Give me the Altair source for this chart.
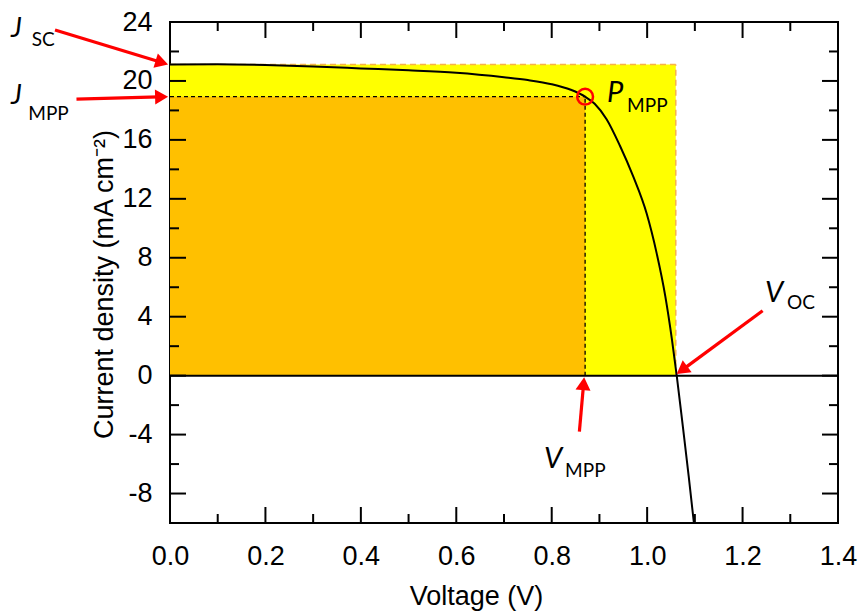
import math
import altair as alt
import pandas as pd

# ---- data ----
voltage = [0.0, 0.1, 0.2, 0.3, 0.4, 0.5, 0.6, 0.7, 0.75, 0.8, 0.84, 0.87, 0.89,
           0.915, 0.943, 0.971, 0.999, 1.02, 1.038, 1.052, 1.062, 1.075, 1.087, 1.098]
current = [21.12, 21.13, 21.08, 20.98, 20.85, 20.72, 20.55, 20.25, 20.06, 19.78, 19.4,
           18.93, 18.45, 17.4, 15.6, 13.5, 11.0, 8.3, 5.4, 2.45, 0.0, -3.5, -6.8, -10.0]

J_SC = 21.12
J_MPP = 18.93
V_MPP = 0.870
V_OC = 1.060

x_major = [0.0, 0.2, 0.4, 0.6, 0.8, 1.0, 1.2, 1.4]
x_minor = [0.1, 0.3, 0.5, 0.7, 0.9, 1.1, 1.3]
y_major = [-8, -4, 0, 4, 8, 12, 16, 20, 24]
y_minor = [-6, -2, 2, 6, 10, 14, 18, 22]

X_DOMAIN = [0, 1.4]
Y_DOMAIN = [-10, 24]

# annotation labels: main letter (italic) + subscript
ann_main = ["J", "J", "P", "V", "V"]
ann_sub = ["SC", "MPP", "MPP", "OC", "MPP"]
ann_main_v = [-0.333, -0.333, 0.916, 1.247, 0.784]
ann_main_j = [22.95, 18.45, 18.57, 5.0, -6.27]
ann_sub_v = [-0.290, -0.297, 0.958, 1.293, 0.828]
ann_sub_j = [22.4, 17.35, 17.89, 4.52, -6.88]
ann_main_size = [27, 27, 29, 29, 29]

# arrows: tail (V, J) -> tip (V, J)
arrow_tail_v = [-0.241, -0.196, 0.858, 1.242]
arrow_tail_j = [23.46, 18.77, -3.80, 4.41]
arrow_tip_v = [-0.004, -0.004, 0.868, 1.062]
arrow_tip_j = [J_SC, J_MPP, -0.11, 0.11]

# ---- layout ----
W, H = 668, 501
PX_V = W / (X_DOMAIN[1] - X_DOMAIN[0])
PX_J = H / (Y_DOMAIN[1] - Y_DOMAIN[0])

AX_FONT = "Liberation Sans"
ANN_FONT = "Lato"
MINUS_FIX = "replace(datum.label, '\u2212', '-')"

xs = alt.Scale(domain=X_DOMAIN, nice=False, zero=False)
ys = alt.Scale(domain=Y_DOMAIN, nice=False, zero=False)
x_axis = alt.Axis(values=x_major, format=".1f", title="Voltage (V)", labelFlush=False,
                  labelOverlap=False, labelPadding=20, titleX=306, titleY=60,
                  titleBaseline="top")
y_axis = alt.Axis(values=y_major, format="d", title="Current density (mA cm\u207b\u00b2)",
                  labelFlush=False, labelOverlap=False, labelExpr=MINUS_FIX,
                  labelPadding=18, titleX=-52, titleY=262, titleBaseline="bottom")


def X(field):
    return alt.X(f"{field}:Q", scale=xs, axis=x_axis)


def Y(field):
    return alt.Y(f"{field}:Q", scale=ys, axis=y_axis)


curve_df = pd.DataFrame({"V": voltage, "J": current})

yellow = alt.Chart(pd.DataFrame({"x0": [0.0], "x1": [V_OC], "y0": [0.0], "y1": [J_SC]})).mark_rect(
    color="#FFFF00").encode(x=X("x0"), x2="x1", y=Y("y0"), y2="y1")
orange = alt.Chart(pd.DataFrame({"x0": [0.0], "x1": [V_MPP], "y0": [0.0], "y1": [J_MPP]})).mark_rect(
    color="#FFC000").encode(x=X("x0"), x2="x1", y=Y("y0"), y2="y1")

seg_y = pd.DataFrame({"x0": [0.0, V_OC], "x1": [V_OC, V_OC], "y0": [J_SC, 0.0], "y1": [J_SC, J_SC]})
yellow_border = alt.Chart(seg_y).mark_rule(color="#F7B24A", strokeWidth=1.5, strokeDash=[6, 4]).encode(
    x=X("x0"), x2="x1", y=Y("y0"), y2="y1")

seg_o = pd.DataFrame({"x0": [0.0, V_MPP], "x1": [V_MPP, V_MPP], "y0": [J_MPP, 0.0], "y1": [J_MPP, J_MPP]})
mpp_dash = alt.Chart(seg_o).mark_rule(color="black", strokeWidth=1.3, strokeDash=[4, 3]).encode(
    x=X("x0"), x2="x1", y=Y("y0"), y2="y1")

zero_df = pd.DataFrame({"x0": [X_DOMAIN[0]], "x1": [X_DOMAIN[1]], "y0": [0.0]})
zero_line = alt.Chart(zero_df).mark_rule(color="black", strokeWidth=2).encode(
    x=X("x0"), x2="x1", y=Y("y0"))

curve = alt.Chart(curve_df).mark_line(color="black", strokeWidth=2, interpolate="monotone").encode(
    x=X("V"), y=Y("J"))

mpp_pt = alt.Chart(pd.DataFrame({"V": [V_MPP], "J": [J_MPP]})).mark_point(
    shape="circle", filled=False, color="#FF0000", strokeWidth=2.5, size=250, opacity=1).encode(
    x=X("V"), y=Y("J"))

# inward ticks on all four sides
MAJ, MIN = 16, 9
tick_layers = []
for vals, ln in ((x_major, MAJ), (x_minor, MIN)):
    d = pd.DataFrame({"V": vals})
    tick_layers.append(alt.Chart(d).mark_rule(color="black", strokeWidth=2).encode(
        x=X("V"), y=alt.value(H), y2=alt.value(H - ln)))
    tick_layers.append(alt.Chart(d).mark_rule(color="black", strokeWidth=2).encode(
        x=X("V"), y=alt.value(0), y2=alt.value(ln)))
for vals, ln in ((y_major, MAJ), (y_minor, MIN)):
    d = pd.DataFrame({"J": vals})
    tick_layers.append(alt.Chart(d).mark_rule(color="black", strokeWidth=2).encode(
        y=Y("J"), x=alt.value(0), x2=alt.value(ln)))
    tick_layers.append(alt.Chart(d).mark_rule(color="black", strokeWidth=2).encode(
        y=Y("J"), x=alt.value(W), x2=alt.value(W - ln)))

# arrows
HEAD = 13.0
rows_line, rows_head = [], []
for tv, tj, hv, hj in zip(arrow_tail_v, arrow_tail_j, arrow_tip_v, arrow_tip_j):
    dx = (hv - tv) * PX_V
    dy = -(hj - tj) * PX_J
    L = math.hypot(dx, dy)
    ux, uy = dx / L, dy / L
    ev = hv - ux * HEAD * 0.7 / PX_V
    ej = hj + uy * HEAD * 0.7 / PX_J
    cv = hv - ux * HEAD / 2 / PX_V
    cj = hj + uy * HEAD / 2 / PX_J
    ang = math.degrees(math.atan2(ux, -uy)) % 360
    rows_line.append({"x0": tv, "y0": tj, "x1": ev, "y1": ej})
    rows_head.append({"V": cv, "J": cj, "ang": ang})

r = HEAD / math.sqrt(3)
head_size = (2 * r) ** 2
arrow_lines = alt.Chart(pd.DataFrame(rows_line)).mark_rule(color="#FF0000", strokeWidth=3.2).encode(
    x=X("x0"), x2="x1", y=Y("y0"), y2="y1")
arrow_heads = alt.Chart(pd.DataFrame(rows_head)).mark_point(
    shape="triangle-up", filled=True, color="#FF0000", size=head_size, opacity=1, strokeWidth=0).encode(
    x=X("V"), y=Y("J"), angle=alt.Angle("ang:Q", scale=None))

main_df = pd.DataFrame({"V": ann_main_v, "J": ann_main_j, "t": ann_main, "fs": ann_main_size})
sub_df = pd.DataFrame({"V": ann_sub_v, "J": ann_sub_j, "t": ann_sub})
main_text = alt.Chart(main_df).mark_text(
    font=ANN_FONT, fontStyle="italic", align="left", baseline="alphabetic", color="black").encode(
    x=X("V"), y=Y("J"), text="t:N", size=alt.Size("fs:Q", scale=None))
sub_text = alt.Chart(sub_df).mark_text(
    font=ANN_FONT, fontSize=19, align="left", baseline="alphabetic", color="black").encode(
    x=X("V"), y=Y("J"), text="t:N")

chart = alt.layer(
    yellow, orange, yellow_border, mpp_dash, zero_line, curve, mpp_pt,
    *tick_layers, arrow_lines, arrow_heads, main_text, sub_text,
).properties(
    width=W, height=H,
    autosize=alt.AutoSizeParams(type="none"),
    padding={"left": 170, "top": 22, "right": 20, "bottom": 91},
    background="white",
).configure_view(
    stroke="black", strokeWidth=2,
).configure_axis(
    labelFont=AX_FONT, titleFont=AX_FONT, labelFontSize=27, titleFontSize=27,
    labelColor="black", titleColor="black", titleFontWeight="normal",
    grid=False, domain=False, ticks=False, tickSize=0,
)

chart.save("out.html", embed_options={"renderer": "svg", "actions": False})
